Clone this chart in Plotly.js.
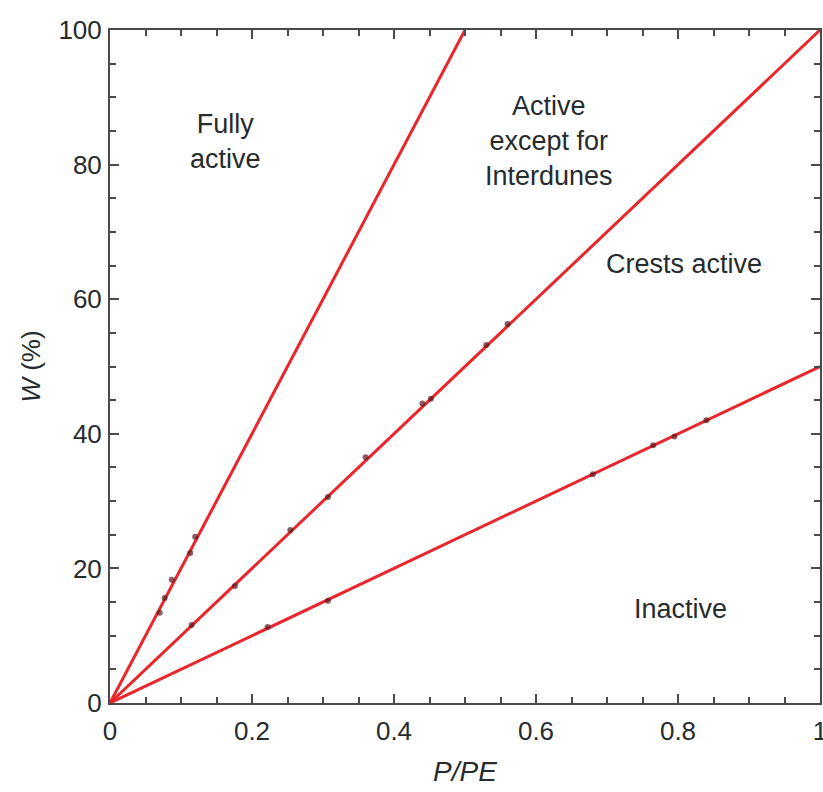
<!DOCTYPE html>
<html>
<head>
<meta charset="utf-8">
<script src="https://cdn.plot.ly/plotly-3.0.1.min.js"></script>
<style>html,body{margin:0;padding:0;background:#fff;}#chart{width:823px;height:792px;}</style>
</head>
<body>
<div id="chart"></div>
<script>
// Boundary lines (W vs P/PE)
const lineFullyX = [0, 0.5];
const lineFullyY = [0, 100];
const lineCrestX = [0, 1];
const lineCrestY = [0, 100];
const lineInactiveX = [0, 1];
const lineInactiveY = [0, 50];

// Observed points lying on the lines
const ptsFullyX = [0.07, 0.077, 0.087, 0.113, 0.12];
const ptsFullyY = [13.4, 15.6, 18.3, 22.3, 24.7];
const ptsCrestX = [0.115, 0.176, 0.254, 0.307, 0.36, 0.44, 0.452, 0.53, 0.56];
const ptsCrestY = [11.6, 17.4, 25.7, 30.6, 36.5, 44.5, 45.2, 53.2, 56.3];
const ptsInactiveX = [0.222, 0.307, 0.68, 0.765, 0.795, 0.84];
const ptsInactiveY = [11.3, 15.2, 34.0, 38.3, 39.6, 42.0];

// Region labels
const regionText = ["Fully<br>active", "Active<br>except for<br>Interdunes", "Crests active", "Inactive"];
const regionX = [0.162, 0.618, 0.808, 0.804];
const regionY = [83.5, 83.5, 65.3, 14.0];

const xTickVals = [0, 0.2, 0.4, 0.6, 0.8, 1];
const xTickText = ["0", "0.2", "0.4", "0.6", "0.8", "1"];
const yTickVals = [0, 20, 40, 60, 80, 100];
const yTickText = ["0", "20", "40", "60", "80", "100"];

const red = '#e8262b';
const lineStyle = {color: red, width: 3};
const markerStyle = {color: 'rgba(90,25,30,0.7)', size: 6, symbol: 'circle'};

const traces = [
  {x: lineFullyX, y: lineFullyY, mode: 'lines', line: lineStyle, hoverinfo: 'skip'},
  {x: lineCrestX, y: lineCrestY, mode: 'lines', line: lineStyle, hoverinfo: 'skip'},
  {x: lineInactiveX, y: lineInactiveY, mode: 'lines', line: lineStyle, hoverinfo: 'skip'},
  {x: ptsFullyX, y: ptsFullyY, mode: 'markers', marker: markerStyle},
  {x: ptsCrestX, y: ptsCrestY, mode: 'markers', marker: markerStyle},
  {x: ptsInactiveX, y: ptsInactiveY, mode: 'markers', marker: markerStyle}
];

const font = {family: 'Liberation Sans, Arial, sans-serif', color: '#262b2e'};
const axisCommon = {
  showgrid: false, zeroline: false, showline: true, mirror: 'allticks',
  linecolor: '#4a4a4a', linewidth: 2, ticks: 'inside', ticklen: 9, tickwidth: 2,
  tickcolor: '#4a4a4a', tickfont: {family: font.family, size: 26, color: font.color},
  ticklabeloverflow: 'allow', fixedrange: true
};

const layout = {
  width: 823, height: 792,
  margin: {l: 110, r: 3, t: 30, b: 89},
  paper_bgcolor: '#fff', plot_bgcolor: '#fff',
  showlegend: false,
  font: font,
  xaxis: Object.assign({}, axisCommon, {
    range: [0, 1], tickvals: xTickVals, ticktext: xTickText,
    minor: {dtick: 0.05, ticks: 'inside', ticklen: 6, tickwidth: 2, tickcolor: '#4a4a4a', showgrid: false},
    ticklabelstandoff: 4,
    title: {text: '<i>P/PE</i>', font: {family: font.family, size: 28, color: font.color}, standoff: 16}
  }),
  yaxis: Object.assign({}, axisCommon, {
    range: [0, 100], tickvals: yTickVals, ticktext: yTickText,
    minor: {dtick: 5, ticks: 'inside', ticklen: 6, tickwidth: 2, tickcolor: '#4a4a4a', showgrid: false},
    ticklabelstandoff: 1,
    title: {text: '<i>W</i> (%)', font: {family: font.family, size: 26, color: font.color}, standoff: 10}
  }),
  annotations: regionText.map((t, i) => ({
    x: regionX[i], y: regionY[i], xref: 'x', yref: 'y', text: t, showarrow: false,
    xanchor: 'center', yanchor: 'middle', align: 'center',
    font: {family: font.family, size: 27, color: font.color}
  }))
};

Plotly.newPlot('chart', traces, layout, {displayModeBar: false, staticPlot: true});
</script>
</body>
</html>
